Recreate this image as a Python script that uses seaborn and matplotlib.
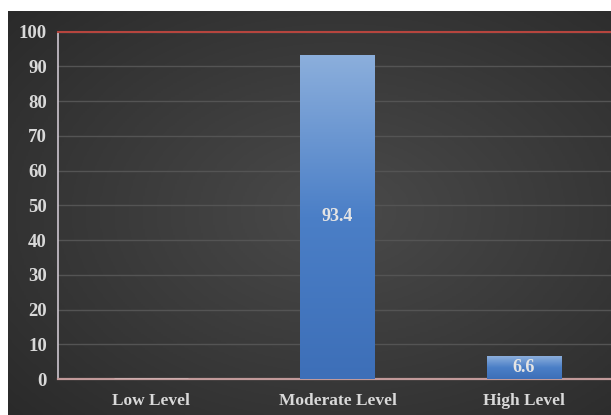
import numpy as np
import pandas as pd
import matplotlib
matplotlib.use("Agg")
import matplotlib.pyplot as plt
from matplotlib.colors import LinearSegmentedColormap
import seaborn as sns

categories = ["Low Level", "Moderate Level", "High Level"]
values = [0.0, 93.4, 6.6]
value_labels = ["", "93.4", "6.6"]
y_ticks = [0, 10, 20, 30, 40, 50, 60, 70, 80, 90, 100]

sns.set_theme(style="dark")
plt.rcParams["font.family"] = ["Liberation Serif", "DejaVu Serif"]

W, H = 611, 415
fig = plt.figure(figsize=(W / 100, H / 100), dpi=100, facecolor="white")

# background panel with radial gradient
bg = fig.add_axes([8 / W, 0, 1 - 8 / W, (H - 11) / H])
bg.set_axis_off()
ny, nx = 200, 300
yy, xx = np.mgrid[0:1:ny * 1j, 0:1:nx * 1j]
r = np.sqrt(((xx - 0.55) / 0.75) ** 2 + ((yy - 0.5) / 0.75) ** 2)
r = np.clip(r, 0, 1)
bg_cmap = LinearSegmentedColormap.from_list("bg", ["#4a4a4a", "#3a3a3a", "#2a2a2a"])
bg.imshow(r, cmap=bg_cmap, aspect="auto", extent=[0, 1, 0, 1], vmin=0, vmax=1)
bg.set_xlim(0, 1)
bg.set_ylim(0, 1)

ax = fig.add_axes([58 / W, 36 / H, 559 / W, 347.3 / H])
ax.set_facecolor("none")
df = pd.DataFrame({"category": categories, "value": values})
sns.barplot(data=df, x="category", y="value", ax=ax, width=0.40,
            color="#4a7cc4", saturation=1, zorder=3)

ax.set_xlim(-0.5, 2.5)
ax.set_ylim(0, 100)
ax.set_yticks(y_ticks)
ax.set_xlabel("")
ax.set_ylabel("")
ax.grid(axis="y", color="#545454", linewidth=1.0, zorder=0)
ax.grid(axis="x", visible=False)
ax.tick_params(axis="both", length=0, colors="#d9d9d9")
ax.tick_params(axis="y", pad=8, labelsize=13.5)
ax.tick_params(axis="x", pad=10, labelsize=12.5)
for lab in ax.get_xticklabels() + ax.get_yticklabels():
    lab.set_fontweight("bold")
    lab.set_color("#d9d9d9")

ax.spines["left"].set_color("#cdc6cf")
ax.spines["left"].set_linewidth(1.2)
ax.spines["bottom"].set_color("#c29a9a")
ax.spines["bottom"].set_linewidth(1.6)
ax.spines["top"].set_color("#b6453e")
ax.spines["top"].set_linewidth(1.5)
ax.spines["right"].set_visible(False)
ax.set_axisbelow(True)

# gradient fills for bars
bar_cmap = LinearSegmentedColormap.from_list("bar", ["#3d6fb8", "#4b7fc7", "#8cafdc"])
grad = np.linspace(0, 1, 256).reshape(-1, 1)
for patch in ax.patches:
    x0 = patch.get_x()
    w = patch.get_width()
    h = patch.get_height()
    if h <= 0:
        continue
    patch.set_facecolor("none")
    patch.set_edgecolor("none")
    im = ax.imshow(grad, cmap=bar_cmap, aspect="auto", origin="lower",
                   extent=[x0, x0 + w, 0, h], zorder=3)
    im.set_clip_path(patch)
ax.set_xlim(-0.5, 2.5)
ax.set_ylim(0, 100)

for patch, lab in zip(ax.patches, value_labels):
    h = patch.get_height()
    if not lab:
        continue
    ax.text(patch.get_x() + patch.get_width() / 2, h / 2, lab,
            ha="center", va="center", color="#e4e4e4", fontsize=13,
            fontweight="bold", zorder=5)

fig.savefig("out.png", dpi=100, facecolor="white")
